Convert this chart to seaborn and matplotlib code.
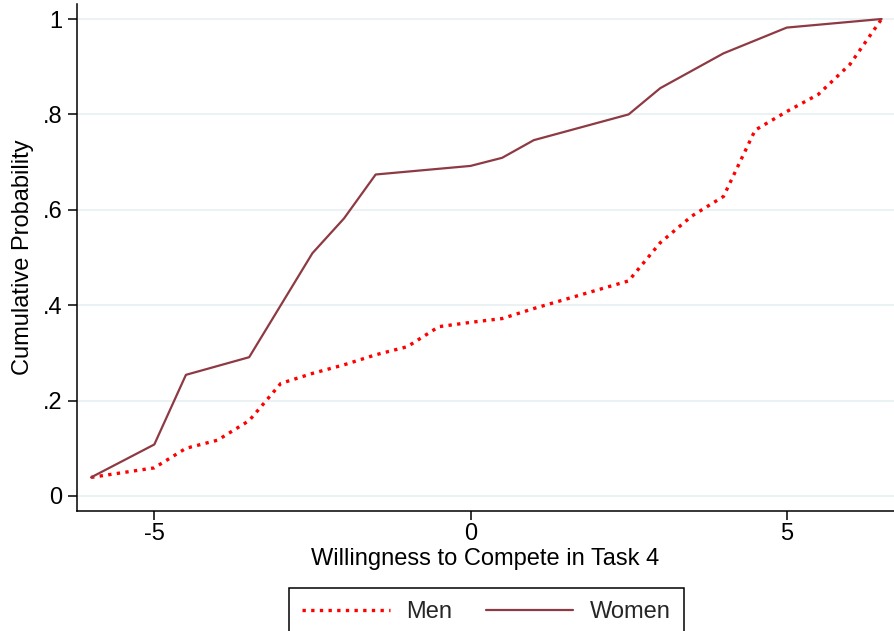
import matplotlib
matplotlib.use("Agg")
import matplotlib.pyplot as plt
import seaborn as sns
import pandas as pd

# Data
men_x = [-6, -5, -4.5, -4, -3.5, -3, -2.5, -2, -1.5, -1, -0.5, 0, 0.5, 1, 2.5, 3, 3.5, 4, 4.5, 5, 5.5, 6, 6.5]
men_y = [0.039, 0.059, 0.100, 0.117, 0.158, 0.236, 0.257, 0.275, 0.296, 0.313, 0.355, 0.364, 0.372, 0.393,
         0.451, 0.531, 0.587, 0.628, 0.767, 0.806, 0.842, 0.905, 1.0]
women_x = [-6, -5, -4.5, -3.5, -3, -2.5, -2, -1.5, 0, 0.5, 1, 2.5, 3, 4, 5, 6.5]
women_y = [0.039, 0.108, 0.254, 0.291, 0.400, 0.509, 0.582, 0.674, 0.692, 0.709, 0.746, 0.800, 0.855,
           0.928, 0.982, 1.0]
y_ticks = [0, 0.2, 0.4, 0.6, 0.8, 1.0]
y_tick_labels = ["0", ".2", ".4", ".6", ".8", "1"]
x_ticks = [-5, 0, 5]
x_tick_labels = ["-5", "0", "5"]

sns.set_theme(style="white")
plt.rcParams["font.family"] = ["Liberation Sans", "DejaVu Sans"]

FS = 17

fig = plt.figure(figsize=(8.94, 6.31), dpi=100)
ax = fig.add_axes([76.7 / 894, 120 / 631, 1 - 76.7 / 894, (511 - 4) / 631])

df_m = pd.DataFrame({"x": men_x, "y": men_y})
df_w = pd.DataFrame({"x": women_x, "y": women_y})

sns.lineplot(data=df_m, x="x", y="y", ax=ax, color="#ff0000", linewidth=2.4,
             label="Men", estimator=None, sort=False)
ax.lines[-1].set_linestyle((0, (1, 1.6)))
ax.lines[-1].set_dash_capstyle("butt")
sns.lineplot(data=df_w, x="x", y="y", ax=ax, color="#8e3a44", linewidth=1.6,
             label="Women", estimator=None, sort=False)

ax.set_xlim(-6.227, 6.696)
ax.set_ylim((496 - 511) / 477, (496 - 4) / 477)
ax.set_yticks(y_ticks)
ax.set_yticklabels(y_tick_labels)
ax.set_xticks(x_ticks)
ax.set_xticklabels(x_tick_labels)
ax.yaxis.grid(True, color="#eaf2f3", linewidth=1.4)
ax.xaxis.grid(False)
ax.set_axisbelow(True)

for s in ["top", "right"]:
    ax.spines[s].set_visible(False)
for s in ["left", "bottom"]:
    ax.spines[s].set_color("black")
    ax.spines[s].set_linewidth(1.1)

ax.tick_params(axis="both", which="major", direction="out", length=6.8, width=1.1,
               color="black", labelsize=FS, labelcolor="black", left=True, bottom=True)
ax.tick_params(axis="y", pad=3.6)
ax.tick_params(axis="x", pad=2.0)
ax.set_xlabel("Willingness to Compete in Task 4", fontsize=FS, color="black", labelpad=2)
ax.set_ylabel("Cumulative Probability", fontsize=FS, color="black", labelpad=6)

ax.get_legend().remove()
handles, labels = ax.get_legend_handles_labels()
leg = fig.legend(handles, labels, ncol=2, loc="upper center",
                 bbox_to_anchor=(486.5 / 894, 1 - 588 / 631), fontsize=FS,
                 frameon=True, fancybox=False, edgecolor="black", framealpha=1,
                 handlelength=3.7, handletextpad=0.7, columnspacing=1.44,
                 borderpad=0.55, borderaxespad=0)
leg.get_frame().set_linewidth(1.1)

fig.savefig("out.png", dpi=100)
